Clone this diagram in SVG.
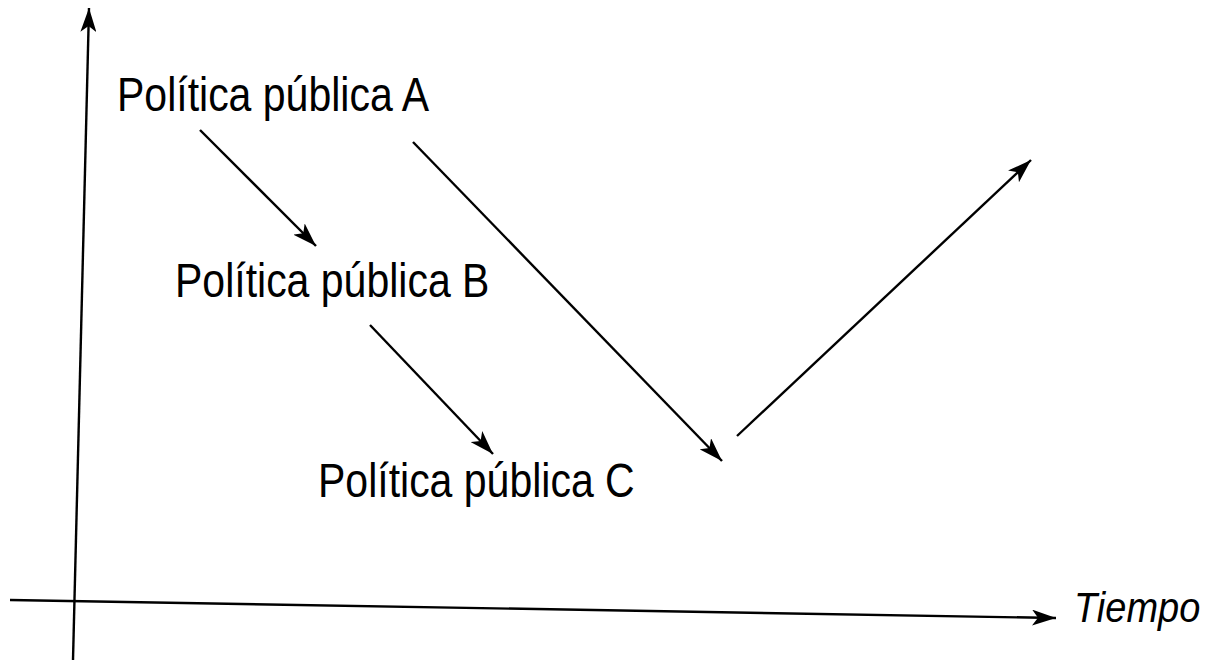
<svg xmlns="http://www.w3.org/2000/svg" width="1220" height="662" viewBox="0 0 1220 662">
<defs>
<style>
.lbl{font-family:"Liberation Sans",Arial,sans-serif;font-size:41px;fill:#000}
.ax{font-family:"Liberation Sans",Arial,sans-serif;font-size:38px;font-style:italic;fill:#000}
.ln{stroke:#000;stroke-width:2.4;fill:none;marker-end:url(#ah)}
</style>
<marker id="ah" markerUnits="userSpaceOnUse" markerWidth="26" markerHeight="16" refX="24" refY="8" orient="auto">
<path d="M0,0 L24,8 L0,16 L6,8 Z" fill="#000"/>
</marker>
</defs>
<rect width="1220" height="662" fill="#fff"/>
<g id="axes">
<line class="ln" x1="73" y1="660" x2="89" y2="8"/>
<line class="ln" x1="10" y1="600" x2="1056" y2="618"/>
</g>
<g id="connectors">
<line class="ln" x1="200" y1="130" x2="316" y2="246"/>
<line class="ln" x1="370" y1="325" x2="493" y2="454"/>
<line class="ln" x1="413" y1="142" x2="722" y2="461"/>
<line class="ln" x1="737" y1="436" x2="1031" y2="160"/>
</g>
<g id="nodeA"><text class="lbl" transform="translate(117,111) scale(1,1.15)">Política pública A</text></g>
<g id="nodeB"><text class="lbl" transform="translate(175,297) scale(1,1.15)">Política pública B</text></g>
<g id="nodeC"><text class="lbl" transform="translate(318,497) scale(1,1.15)">Política pública C</text></g>
<g id="axisLabel"><text class="ax" transform="translate(1074,622) scale(1,1.1)">Tiempo</text></g>
</svg>
